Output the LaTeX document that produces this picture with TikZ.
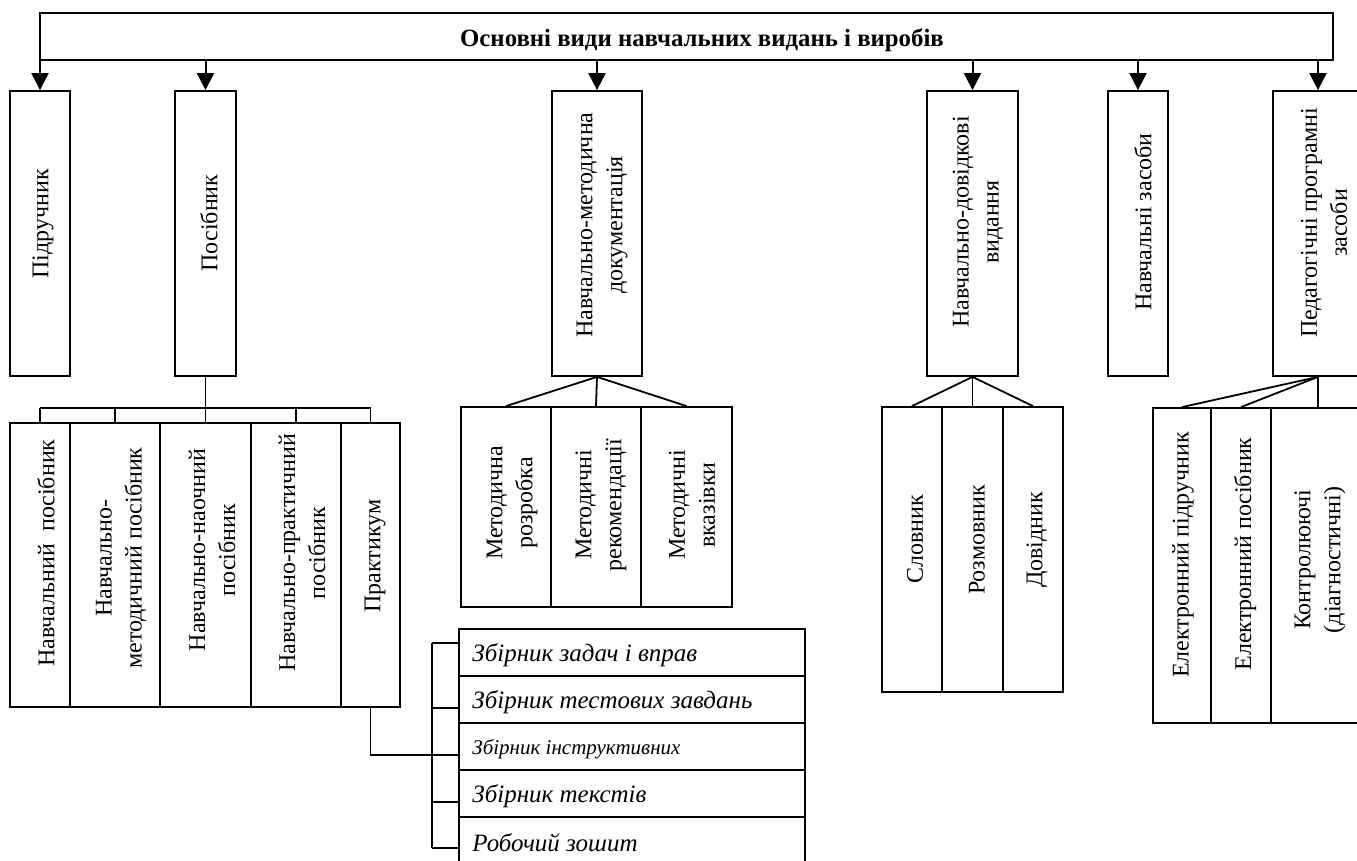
\documentclass[tikz,border=0pt]{standalone}
\usepackage{fontspec}
\setmainfont{Liberation Serif}
\usetikzlibrary{arrows.meta,fit}
\begin{document}
\begin{tikzpicture}[x=0.5pt,y=-0.5pt,
  boxst/.style={draw,line width=0.9pt,inner sep=0pt,rectangle},
  ln/.style={line width=0.9pt},
  arr/.style={line width=1pt,-{Triangle[length=8.5pt,width=8.5pt]}},
  vt/.style={rotate=90,align=center,inner sep=0pt,font=\fontsize{12}{15}\selectfont},
  rt/.style={anchor=west,inner sep=0pt,font=\fontsize{12.5}{15}\selectfont\itshape},
  tt/.style={inner sep=0pt,font=\fontsize{12.4}{14}\selectfont\bfseries}]
\useasboundingbox (0,0) rectangle (1357,861);
\clip (0,0) rectangle (1357,861);
% top box
\node[boxst,fit={(40,13) (1333,60)}] (top) {};
\node[tt] (title) at (702,40) {Основні види навчальних видань і виробів};
% level 1 boxes
\node[boxst,fit={(10,91) (70,376)}] (pidr) {};
\node[boxst,fit={(175,91) (236,376)}] (posib) {};
\node[boxst,fit={(552,91) (642,376)}] (nmd) {};
\node[boxst,fit={(927,91) (1018,376)}] (ndv) {};
\node[boxst,fit={(1108,91) (1168,376)}] (nzs) {};
\node[boxst,fit={(1273,91) (1363,376)}] (ped) {};
\node[vt] (tpidr) at (43,224) {Підручник};
\node[vt] (tposib) at (209,223) {Посібник};
\node[vt] (tnmd) at (602,225) {Навчально-методична\\документація};
\node[vt] (tndv) at (978,222) {Навчально-довідкові\\видання};
\node[vt] (tnzs) at (1143,222) {Навчальні засоби};
\node[vt] (tped) at (1324,223) {Педагогічні програмні\\засоби};
\foreach \b in {pidr,posib,nmd,ndv,nzs,ped}
  \draw[arr] (\b.north |- top.south) -- (\b.north);
% posibnyk children
\node[boxst,fit={(10,423) (70,707)}] (s1) {};
\node[boxst,fit={(70,423) (160,707)}] (s2) {};
\node[boxst,fit={(160,423) (251,707)}] (s3) {};
\node[boxst,fit={(251,423) (341,707)}] (s4) {};
\node[boxst,fit={(341,423) (400,707)}] (s5) {};
\node[vt] (ts1) at (46,553) {Навчальний\ \ посібник};
\node[vt] (ts2) at (121,558) {Навчально-\\методичний посібник};
\node[vt] (ts3) at (212,550) {Навчально-наочний\\посібник};
\node[vt] (ts4) at (302,553) {Навчально-практичний\\посібник};
\node[vt] (ts5) at (375,556) {Практикум};
\coordinate (busL) at (40,408);
\coordinate (busR) at (371,408);
\draw[ln] (busL) -- (busR);
\draw[ln] (posib.south) -- (posib.south |- busL);
\foreach \b in {s1,s2,s3,s4,s5}
  \draw[ln] (\b.north |- busL) -- (\b.north);
% metodychna children
\node[boxst,fit={(461,407) (551,607)}] (m1) {};
\node[boxst,fit={(551,407) (641,607)}] (m2) {};
\node[boxst,fit={(641,407) (732,607)}] (m3) {};
\node[vt] (tm1) at (512,503) {Методична\\розробка};
\node[vt] (tm2) at (601,505) {Методичні\\рекомендації};
\node[vt] (tm3) at (692,505) {Методичні\\вказівки};
\foreach \b in {m1,m2,m3}
  \draw[ln] (nmd.south) -- (\b.north);
% dovidkovi children
\node[boxst,fit={(882,407) (942,692)}] (d1) {};
\node[boxst,fit={(942,407) (1003,692)}] (d2) {};
\node[boxst,fit={(1003,407) (1063,692)}] (d3) {};
\node[vt] (td1) at (915,539) {Словник};
\node[vt] (td2) at (977,540) {Розмовник};
\node[vt] (td3) at (1037,540) {Довідник};
\foreach \b in {d1,d2,d3}
  \draw[ln] (ndv.south) -- (\b.north);
% pedagogichni children
\node[boxst,fit={(1153,408) (1211,723)}] (e1) {};
\node[boxst,fit={(1211,408) (1271,723)}] (e2) {};
\node[boxst,fit={(1271,408) (1365,723)}] (e3) {};
\node[vt] (te1) at (1183,555) {Електронний підручник};
\node[vt] (te2) at (1245,554) {Електронний посібник};
\node[vt] (te3) at (1320,560) {Контролюючі\\(діагностичні)};
\draw[ln] (ped.south) -- (e1.north);
\draw[ln] (ped.south) -- (e2.north);
\draw[ln] (ped.south) -- (ped.south |- e3.north);
% praktykum list
\node[boxst,fit={(459,629) (805,676)}] (r1) {};
\node[boxst,fit={(459,676) (805,723)}] (r2) {};
\node[boxst,fit={(459,723) (805,770)}] (r3) {};
\node[boxst,fit={(459,770) (805,817)}] (r4) {};
\node[boxst,fit={(459,817) (805,864)}] (r5) {};
\node[rt] (tr1) at (472,655) {Збірник задач і вправ};
\node[rt] (tr2) at (472,702) {Збірник тестових завдань};
\node[rt,font=\fontsize{10.5}{13}\selectfont\itshape] (tr3) at (472,749) {Збірник інструктивних};
\node[rt] (tr4) at (472,796) {Збірник текстів};
\node[rt] (tr5) at (472,843) {Робочий зошит};
\coordinate (k1) at (432,643);
\coordinate (k2) at (432,708);
\coordinate (k3) at (432,755);
\coordinate (k4) at (432,802);
\coordinate (k5) at (432,848);
\draw[ln] (k1) -- (k5);
\draw[ln] (k1) -- (k1 -| r1.west);
\draw[ln] (k2) -- (k2 -| r2.west);
\draw[ln] (k4) -- (k4 -| r4.west);
\draw[ln] (k5) -- (k5 -| r5.west);
\draw[ln] (s5.south) |- (k3 -| r3.west);
\end{tikzpicture}
\end{document}
